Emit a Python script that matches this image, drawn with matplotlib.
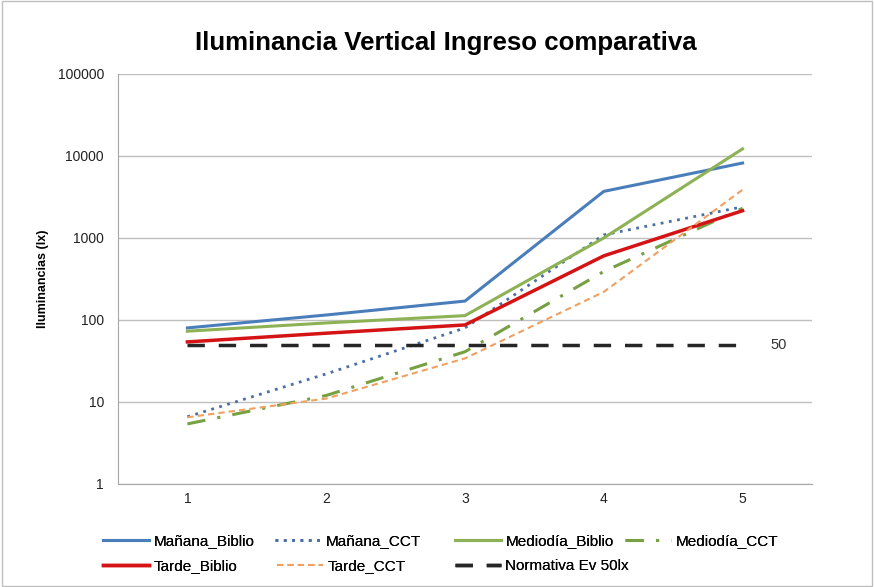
import numpy as np
import matplotlib.pyplot as plt
from matplotlib.patches import Rectangle

plt.rcParams['font.family'] = ['Liberation Sans', 'DejaVu Sans']

x_labels = ['1', '2', '3', '4', '5']
manana_biblio = [80, 115, 170, 3700, 8200]
manana_cct = [6.6, 22, 80, 1090, 2400]
mediodia_biblio = [73, 92, 113, 1000, 12200]
mediodia_cct = [5.4, 12, 41, 390, 2300]
tarde_biblio = [54, 69, 87, 605, 2150]
tarde_cct = [6.5, 11, 34, 220, 3870]
normativa = [50, 50, 50, 50, 50]

x = np.arange(1, 6)

fig = plt.figure(figsize=(8.74, 5.87), dpi=100)
fig.patches.append(Rectangle((0.002, 0.002), 0.996, 0.996, transform=fig.transFigure,
                             fill=False, edgecolor='#bfbfbf', lw=1))
ax = fig.add_axes([0.135, 0.1755, 0.794, 0.6985])

h = {}
h['mb'], = ax.plot(x, manana_biblio, color='#4A7EBB', lw=2.2, label='Mañana_Biblio')
h['mc'], = ax.plot(x, manana_cct, color='#4A6FA5', lw=2, ls=(0, (1, 2)), label='Mañana_CCT')
h['meb'], = ax.plot(x, mediodia_biblio, color='#8DB255', lw=2.2, label='Mediodía_Biblio')
h['mec'], = ax.plot(x, mediodia_cct, color='#77A043', lw=2.2, ls=(0, (6, 4, 1, 4)), label='Mediodía_CCT')
h['tb'], = ax.plot(x, tarde_biblio, color='#D41414', lw=2.5, label='Tarde_Biblio')
h['tc'], = ax.plot(x, tarde_cct, color='#F0A060', lw=1.5, ls=(0, (3, 2)), label='Tarde_CCT')
h['n'], = ax.plot(x, normativa, color='#262626', lw=2.5, ls=(0, (5, 4)), label='Normativa Ev 50lx')
ax.text(5.2, 50, '50', fontsize=10.5, va='center', ha='left', color='#333333')

ax.set_yscale('log')
ax.set_ylim(1, 100000)
ax.set_xlim(0.5, 5.5)
ax.set_yticks([1, 10, 100, 1000, 10000, 100000])
ax.set_yticklabels(['1', '10', '100', '1000', '10000', '100000'])
ax.minorticks_off()
ax.set_xticks(x)
ax.set_xticklabels(x_labels)
ax.tick_params(axis='both', labelsize=10, length=0, colors='#222222')
ax.tick_params(axis='x', pad=6)
ax.tick_params(axis='y', pad=10)
ax.grid(axis='y', color='#bfbfbf', lw=1)
ax.set_axisbelow(True)
for s in ['top', 'right']:
    ax.spines[s].set_visible(False)
ax.spines['left'].set_color('#a6a6a6')
ax.spines['bottom'].set_color('#a6a6a6')

ax.set_ylabel('Iluminancias (lx)', fontsize=9, fontweight='bold', labelpad=6)
fig.suptitle('Iluminancia Vertical Ingreso comparativa', fontsize=18.6, fontweight='bold',
             x=0.51, y=0.948)

# legend entries placed one by one like the Excel legend (pixel anchors)
slots = {'mb': (103, 541), 'mc': (275, 541), 'meb': (455, 541), 'mec': (625, 541),
         'tb': (103, 566), 'tc': (277, 566), 'n': (455, 566)}
for k, (px, py) in slots.items():
    leg = fig.legend([h[k]], [h[k].get_label()], loc='center left',
                     bbox_to_anchor=(px / 874, 1 - py / 587), frameon=False,
                     fontsize=11, handlelength=3.0, handletextpad=0.3,
                     borderpad=0, borderaxespad=0)
    fig.add_artist(leg)

fig.savefig('out.png', dpi=100)
